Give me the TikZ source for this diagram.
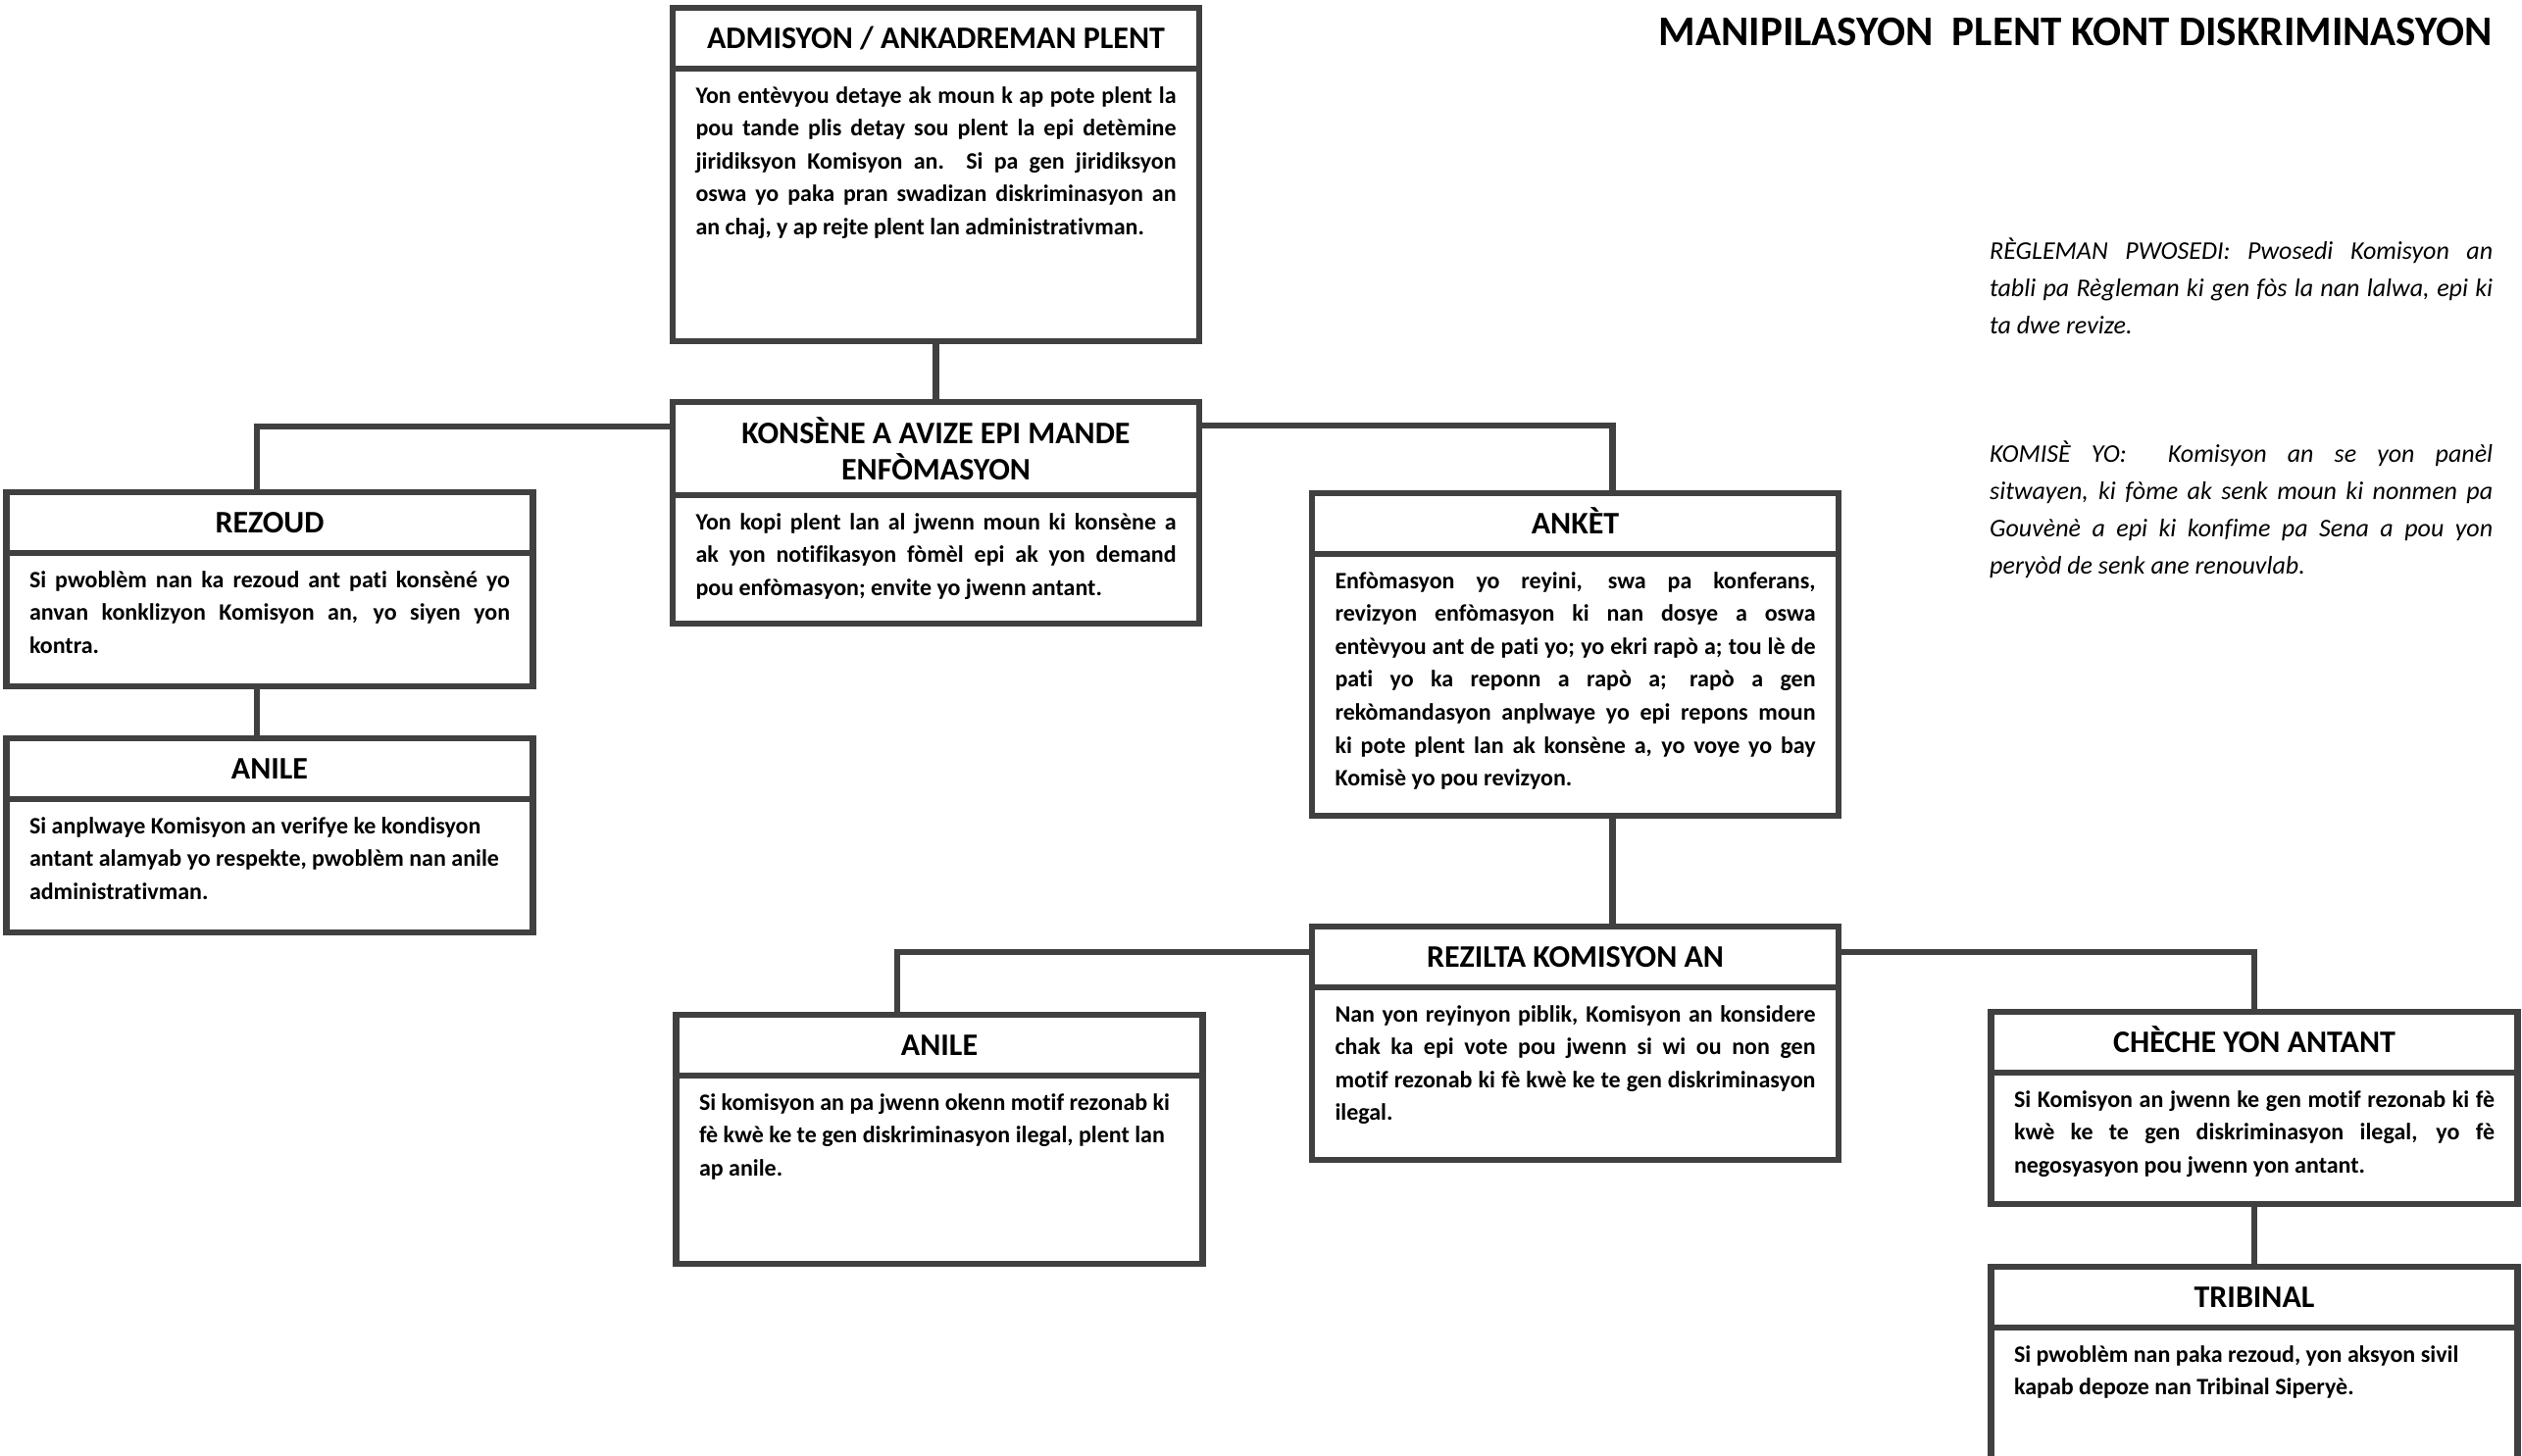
\documentclass[tikz,border=0pt]{standalone}
\usepackage{fontspec}
\setmainfont{Carlito}[Ligatures=CommonOff]
\usetikzlibrary{positioning}
\definecolor{linegray}{HTML}{404040}
\hyphenpenalty=10000
\exhyphenpenalty=10000
\newcommand{\boxtext}[2]{\parbox[c][#1][t]{490pt}{\rule{0pt}{35pt}#2}}

\begin{document}
\begin{tikzpicture}[x=1pt, y=-1pt,
    box/.style={draw=linegray, line width=6.5pt, fill=white, outer sep=0pt, minimum width=537pt},
    headbase/.style={box, inner sep=0pt, align=center, font=\fontsize{32}{37}\selectfont\bfseries},
    head/.style={headbase, minimum height=62pt, text height=20.5pt, text depth=0pt},
    body/.style={box, inner xsep=23.5pt, inner ysep=0pt, font=\fontsize{24}{33.6}\selectfont\bfseries},
    link/.style={draw=linegray, line width=6.5pt},
    note/.style={inner sep=0pt, anchor=base west, font=\fontsize{26}{38}\selectfont\itshape}]

\useasboundingbox (0,0) rectangle (2572,1485);
\clip (0,0) rectangle (2572,1485);

% title and notes
\node[anchor=base east, font=\fontsize{43}{50}\selectfont\bfseries] (title) at (2545,47) {MANIPILASYON\ \ PLENT KONT DISKRIMINASYON};
\node[note] (reglement) at (2029,264) {\parbox[t]{513pt}{R\`EGLEMAN PWOSEDI: Pwosedi Komisyon an\linebreak tabli pa R\`egleman ki gen f\`os la nan lalwa, epi ki\linebreak ta dwe revize.}};
\node[note] (komise) at (2029,471) {\parbox[t]{513pt}{KOMIS\`E YO:\ \ Komisyon an se yon pan\`el\linebreak sitwayen, ki f\`ome ak senk moun ki nonmen pa\linebreak Gouv\`en\`e a epi ki konfime pa Sena a pou yon\linebreak pery\`od de senk ane renouvlab.}};

% top
\node[head, anchor=north] (admisyon-head) at (954.5,8) {ADMISYON / ANKADREMAN PLENT};
\node[body, below=0pt of admisyon-head] (admisyon) {\boxtext{278pt}{Yon ent\`evyou detaye ak moun k ap pote plent la\linebreak pou tande plis detay sou plent la epi det\`emine\linebreak jiridiksyon Komisyon an.\ \ Si pa gen jiridiksyon\linebreak oswa yo paka pran swadizan diskriminasyon an\linebreak an chaj, y ap rejte plent lan administrativman.}};

\node[headbase, minimum height=95pt, anchor=north] (konsene-head) at (954.5,410) {KONS\`ENE A AVIZE EPI MANDE\\ENF\`OMASYON};
\node[body, below=0pt of konsene-head] (konsene) {\boxtext{131pt}{Yon kopi plent lan al jwenn moun ki kons\`ene a\linebreak ak yon notifikasyon f\`om\`el epi ak yon demand\linebreak pou enf\`omasyon; envite yo jwenn antant.}};

% left column
\node[head, anchor=north] (rezoud-head) at (275,502) {REZOUD};
\node[body, below=0pt of rezoud-head] (rezoud) {\boxtext{136pt}{Si pwobl\`em nan ka rezoud ant pati kons\`en\'e yo\linebreak anvan konklizyon Komisyon an, yo siyen yon\linebreak kontra.}};

\node[head, anchor=north] (anile-head) at (275,753) {ANILE};
\node[body, below=0pt of anile-head] (anile) {\boxtext{136pt}{\raggedright Si anplwaye Komisyon an verifye ke kondisyon\\ antant alamyab yo respekte, pwobl\`em nan anile\\ administrativman.}};

% middle column
\node[head, anchor=north] (anket-head) at (1606.5,503) {ANK\`ET};
\node[body, below=0pt of anket-head] (anket) {\boxtext{267pt}{Enf\`omasyon yo reyini, swa pa konferans,\linebreak revizyon enf\`omasyon ki nan dosye a oswa\linebreak ent\`evyou ant de pati yo; yo ekri rap\`o a; tou l\`e de\linebreak pati yo ka reponn a rap\`o a; rap\`o a gen\linebreak rek\`omandasyon anplwaye yo epi repons moun\linebreak ki pote plent lan ak kons\`ene a, yo voye yo bay\linebreak Komis\`e yo pou revizyon.}};

\node[head, anchor=north] (rezilta-head) at (1606.5,945) {REZILTA KOMISYON AN};
\node[body, below=0pt of rezilta-head] (rezilta) {\boxtext{176pt}{Nan yon reyinyon piblik, Komisyon an konsidere\linebreak chak ka epi vote pou jwenn si wi ou non gen\linebreak motif rezonab ki f\`e kw\`e ke te gen diskriminasyon\linebreak ilegal.}};

% bottom row
\node[head, anchor=north] (anile2-head) at (958,1035) {ANILE};
\node[body, below=0pt of anile2-head] (anile2) {\boxtext{192pt}{\raggedright Si komisyon an pa jwenn okenn motif rezonab ki\\ f\`e kw\`e ke te gen diskriminasyon ilegal, plent lan\\ ap anile.}};

\node[head, anchor=north] (cheche-head) at (2299,1032) {CH\`ECHE YON ANTANT};
\node[body, below=0pt of cheche-head] (cheche) {\boxtext{134pt}{Si Komisyon an jwenn ke gen motif rezonab ki f\`e\linebreak kw\`e ke te gen diskriminasyon ilegal, yo f\`e\linebreak negosyasyon pou jwenn yon antant.}};

\node[head, anchor=north] (tribinal-head) at (2299,1292) {TRIBINAL};
\node[body, below=0pt of tribinal-head] (tribinal) {\boxtext{200pt}{\raggedright Si pwobl\`em nan paka rezoud, yon aksyon sivil\\ kapab depoze nan Tribinal Sipery\`e.}};

% connectors
\draw[link] (admisyon.south) -- (konsene-head.north);
\draw[link] ([yshift=-25pt]konsene-head.north west) -| ([xshift=-13pt]rezoud-head.north);
\draw[link] ([yshift=-24pt]konsene-head.north east) -| ([xshift=38pt]anket-head.north);
\draw[link] ([xshift=-13pt]rezoud.south) -- ([xshift=-13pt]anile-head.north);
\draw[link] ([xshift=38pt]anket.south) -- ([xshift=38pt]rezilta-head.north);
\draw[link] ([yshift=-26pt]rezilta-head.north west) -| ([xshift=-43pt]anile2-head.north);
\draw[link] ([yshift=-26pt]rezilta-head.north east) -| (cheche-head.north);
\draw[link] (cheche.south) -- (tribinal-head.north);
\end{tikzpicture}
\end{document}
